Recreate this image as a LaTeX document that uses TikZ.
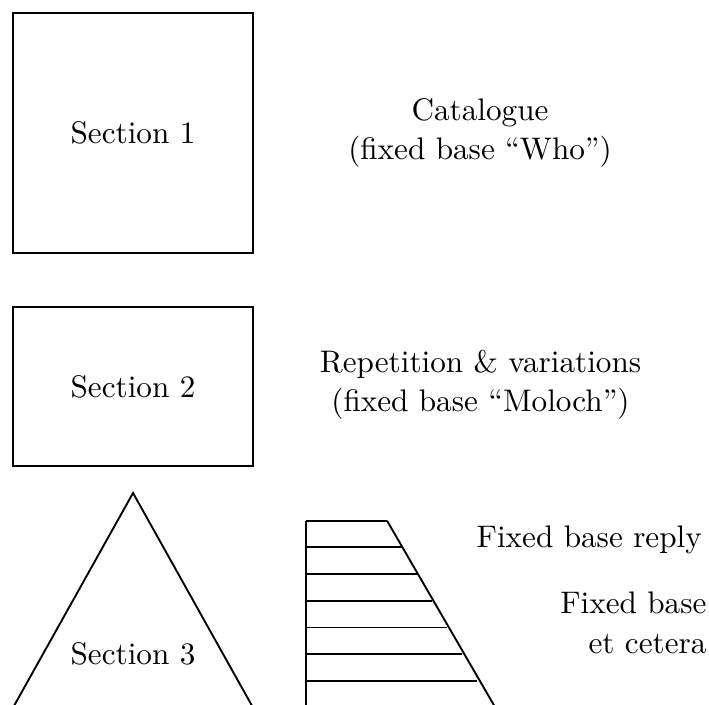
\documentclass[tikz,border=0pt]{standalone}
\usepackage{tikz}

\tikzset{
  section/.style={draw, semithick, minimum width=2.704cm, inner sep=0pt},
  caption/.style={align=center, inner sep=0pt, font={\fontsize{10}{12.5}\selectfont}},
  reply/.style={align=right, inner sep=0pt, font={\fontsize{10}{12.7}\selectfont}},
}

\begin{document}
\begin{tikzpicture}
\useasboundingbox (0, 0) rectangle (7.989, -7.933);

\node[section, minimum height=2.704cm] (sec1) at (1.499, -1.499) {Section 1};
\node[section, minimum height=1.792cm] (sec2) at (1.499, -4.355) {Section 2};

% Triangle for the third section.
\draw[semithick] (0.132, -8.0) -- (1.499, -5.555) -- (2.866, -8.0);
\node (sec3) at (1.499, -7.369) {Section 3};

\node[caption] (cat) at (5.409, -1.499) {Catalogue\\(fixed base ``Who'')};
\node[caption] (rep) at (5.414, -4.338) {Repetition \& variations\\(fixed base ``Moloch'')};

% Ladder of fixed bases.
\draw[semithick] (3.448, -5.867) -- (3.448, -8.1);
\draw[semithick] (4.361, -5.867) -- (5.655, -8.1);
\foreach \i in {0,...,7}
  \draw[semithick] (3.448, -5.867 - 0.3009*\i) -- (4.361 + 0.1695*\i, -5.867 - 0.3009*\i);

\node[reply, anchor=base east] (fbr) at (7.915, -6.164) {Fixed base reply};
\node[reply, anchor=north east] (fbe) at (7.967, -6.665) {Fixed base\\et cetera};

\end{tikzpicture}
\end{document}
